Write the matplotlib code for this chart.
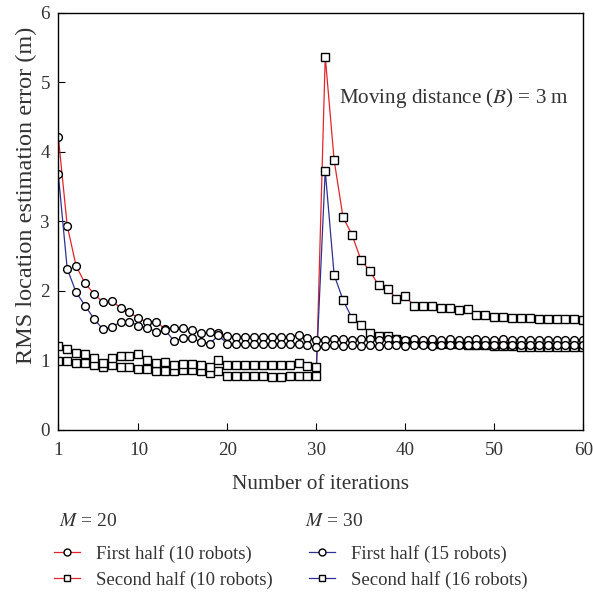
import matplotlib
matplotlib.use("Agg")
import matplotlib.pyplot as plt
from matplotlib.lines import Line2D

plt.rcParams['font.family'] = ['Liberation Serif', 'DejaVu Serif']
plt.rcParams['mathtext.fontset'] = 'stix'

iterations = list(range(1, 61))

# M = 20
first_half_20 = [4.22, 2.94, 2.36, 2.11, 1.96, 1.84, 1.85, 1.76, 1.69, 1.61,
                 1.55, 1.56, 1.45, 1.47, 1.46, 1.44, 1.39, 1.41, 1.40, 1.35,
                 1.34, 1.34, 1.34, 1.34, 1.34, 1.34, 1.34, 1.37, 1.32, 1.30,
                 1.30, 1.31, 1.31, 1.30, 1.31, 1.31, 1.30, 1.31, 1.31, 1.30,
                 1.31, 1.30, 1.31, 1.30, 1.31, 1.30, 1.30, 1.31, 1.30, 1.30,
                 1.31, 1.30, 1.30, 1.30, 1.30, 1.30, 1.30, 1.30, 1.30, 1.30]
second_half_20 = [0.99, 0.99, 0.97, 0.96, 0.93, 0.91, 0.93, 0.91, 0.90, 0.88,
                  0.87, 0.85, 0.85, 0.85, 0.86, 0.86, 0.85, 0.82, 0.85, 0.78,
                  0.78, 0.78, 0.77, 0.77, 0.76, 0.76, 0.77, 0.77, 0.77, 0.77,
                  5.37, 3.88, 3.06, 2.81, 2.45, 2.29, 2.08, 2.03, 1.89, 1.93,
                  1.78, 1.78, 1.79, 1.75, 1.75, 1.72, 1.74, 1.65, 1.65, 1.63,
                  1.62, 1.61, 1.61, 1.61, 1.60, 1.59, 1.59, 1.59, 1.59, 1.58]

# M = 30
first_half_30 = [3.68, 2.32, 1.98, 1.79, 1.60, 1.45, 1.48, 1.55, 1.56, 1.50,
                 1.47, 1.41, 1.44, 1.28, 1.32, 1.32, 1.27, 1.24, 1.36, 1.24,
                 1.23, 1.23, 1.23, 1.23, 1.23, 1.23, 1.23, 1.24, 1.22, 1.19,
                 1.21, 1.22, 1.21, 1.22, 1.21, 1.22, 1.21, 1.22, 1.22, 1.21,
                 1.22, 1.22, 1.21, 1.22, 1.22, 1.22, 1.22, 1.22, 1.22, 1.22,
                 1.22, 1.22, 1.22, 1.22, 1.22, 1.22, 1.22, 1.22, 1.22, 1.22]
second_half_30 = [1.21, 1.16, 1.10, 1.09, 1.04, 0.97, 1.04, 1.06, 1.06, 1.09,
                  1.00, 0.97, 0.98, 0.93, 0.95, 0.95, 0.94, 0.91, 1.01, 0.93,
                  0.93, 0.93, 0.93, 0.93, 0.93, 0.93, 0.93, 0.96, 0.92, 0.91,
                  3.73, 2.23, 1.87, 1.61, 1.51, 1.40, 1.35, 1.35, 1.31, 1.28,
                  1.27, 1.25, 1.24, 1.24, 1.23, 1.23, 1.22, 1.22, 1.22, 1.21,
                  1.21, 1.21, 1.20, 1.20, 1.20, 1.20, 1.20, 1.19, 1.19, 1.19]

red = '#e3242b'
blue = '#2e3192'
txt = '#333333'

fig = plt.figure(figsize=(5.93, 5.94), dpi=100)
ax = fig.add_axes([0.0983, 0.2761, 0.8853, 0.7025])

mk = dict(markersize=5.6, markerfacecolor='white', markeredgecolor='black',
          markeredgewidth=1.0, linewidth=0.9)
ax.plot(iterations, second_half_20, 's-', color=red, **mk)
ax.plot(iterations, second_half_30, 's-', color=blue, **mk)
ax.plot(iterations, first_half_20, 'o-', color=red, **mk)
ax.plot(iterations, first_half_30, 'o-', color=blue, **mk)

ax.set_xlim(1, 60)
ax.set_ylim(0, 6)
ax.set_xticks([1, 10, 20, 30, 40, 50, 60])
ax.set_yticks(range(7))
ax.tick_params(direction='in', length=5, width=0.8, labelsize=13.7,
               labelcolor=txt)
ax.tick_params(axis='x', pad=9)
ax.tick_params(axis='y', pad=6)
for s in ax.spines.values():
    s.set_linewidth(1.0)

ax.set_xlabel('Number of iterations', fontsize=15.3, color=txt, labelpad=11)
ax.set_ylabel('RMS location estimation error (m)', fontsize=17.5, color=txt)
ax.yaxis.set_label_coords(-0.04, 0.563)
fig.text(339 / 593, 1 - 98 / 594, 'Moving distance ($B$) = 3 m', fontsize=15.2,
         color=txt, va='center', ha='left')

# legend below the axes
fig.text(59 / 593, 1 - 521 / 594, '$M$ = 20', fontsize=14, color=txt, va='center')
fig.text(305 / 593, 1 - 521 / 594, '$M$ = 30', fontsize=14, color=txt, va='center')

lk = dict(markersize=5, markerfacecolor='white', markeredgecolor='black',
          markeredgewidth=1.0, linewidth=0.9)
handles = [Line2D([], [], marker='o', color=red, **lk),
           Line2D([], [], marker='s', color=red, **lk),
           Line2D([], [], marker='o', color=blue, **lk),
           Line2D([], [], marker='s', color=blue, **lk)]
labels = ['First half (10 robots)', 'Second half (10 robots)',
          'First half (15 robots)', 'Second half (16 robots)']
leg = fig.legend(handles, labels, ncol=2, loc='upper left',
                 bbox_to_anchor=(54 / 593, 1 - 545 / 594), frameon=False,
                 fontsize=13.5, handlelength=1.4, handletextpad=0.85,
                 columnspacing=1.9, labelspacing=0.42, borderpad=0,
                 borderaxespad=0)
for t in leg.get_texts():
    t.set_color(txt)

fig.savefig('out.png', dpi=100)
